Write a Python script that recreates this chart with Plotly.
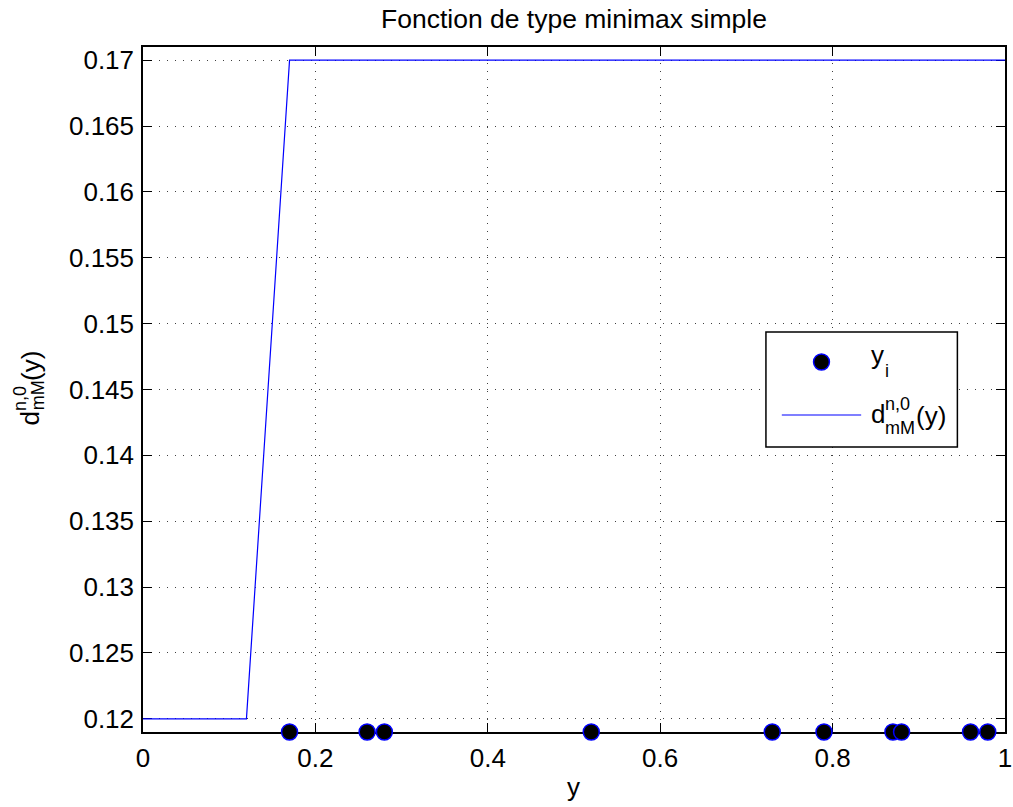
import plotly.graph_objects as go

# Sample points y_i (drawn on the lower edge of the axes)
y_points = [0.17, 0.26, 0.28, 0.52, 0.73, 0.79, 0.87, 0.88, 0.96, 0.98]
y_points_level = [0.119] * len(y_points)

# Piecewise-linear minimax function d_mM^{n,0}(y)
d_x = [0.0, 0.12, 0.17, 1.0]
d_val = [0.12, 0.12, 0.17, 0.17]

x_ticks = [0, 0.2, 0.4, 0.6, 0.8, 1]
x_tick_text = ["0", "0.2", "0.4", "0.6", "0.8", "1"]
y_ticks = [0.12, 0.125, 0.13, 0.135, 0.14, 0.145, 0.15, 0.155, 0.16, 0.165, 0.17]
y_tick_text = ["0.12", "0.125", "0.13", "0.135", "0.14", "0.145", "0.15",
               "0.155", "0.16", "0.165", "0.17"]

W, H = 1013, 807
L, R, T, B = 143, 1012, 47, 732   # plot area in pixels
FONT = "Liberation Sans, Arial, Helvetica, sans-serif"
BLUE = "#0000ff"
FS = 26      # main text size
FS_SUB = 18  # super/subscript size


def px(x):
    return (x - L) / (R - L)


def py(y):
    return (B - y) / (B - T)


fig = go.Figure()
fig.add_trace(go.Scatter(
    x=d_x, y=d_val, mode="lines",
    line=dict(color=BLUE, width=1.2),
    showlegend=False, hoverinfo="skip",
))
fig.add_trace(go.Scatter(
    x=y_points, y=y_points_level, mode="markers",
    marker=dict(size=16, color="black", line=dict(color=BLUE, width=1.5)),
    cliponaxis=False, showlegend=False,
))

axis_common = dict(
    showline=True, linecolor="black", linewidth=1.5, mirror="ticks",
    ticks="inside", ticklen=9, tickwidth=1.2, tickcolor="black",
    showgrid=True, gridcolor="rgba(0,0,0,0.75)", gridwidth=1,
    griddash="1px,7px", zeroline=False, layer="below traces",
    tickfont=dict(family=FONT, size=FS, color="black"),
    ticklabeloverflow="allow",
)

fig.update_xaxes(range=[0, 1], tickvals=x_ticks, ticktext=x_tick_text,
                 ticklabelstandoff=2, **axis_common)
fig.update_yaxes(range=[0.119, 0.171], tickvals=y_ticks, ticktext=y_tick_text,
                 ticklabelstandoff=2, **axis_common)

annotations = [
    dict(text="Fonction de type minimax simple", x=px(577), y=py(19),
         font=dict(size=26.5)),
    dict(text="y", x=px(577), y=py(787), font=dict(size=FS)),
    # y-axis label d^{n,0}_{mM}(y), rotated
    dict(text="d", x=px(29.5), y=py(418), font=dict(size=FS), textangle=-90),
    dict(text="n,0", x=px(19), y=py(398), font=dict(size=FS_SUB), textangle=-90),
    dict(text="mM", x=px(37), y=py(395.5), font=dict(size=FS_SUB), textangle=-90),
    dict(text="(y)", x=px(29.5), y=py(365.5), font=dict(size=FS), textangle=-90),
    # legend entries
    dict(text="y", x=px(875), y=py(355), xanchor="left", font=dict(size=FS)),
    dict(text="i", x=px(889), y=py(371), xanchor="left", font=dict(size=FS_SUB)),
    dict(text="d", x=px(875), y=py(414), xanchor="left", font=dict(size=FS)),
    dict(text="n,0", x=px(889), y=py(404), xanchor="left", font=dict(size=FS_SUB)),
    dict(text="mM", x=px(889), y=py(428), xanchor="left", font=dict(size=FS_SUB)),
    dict(text="(y)", x=px(920), y=py(416), xanchor="left", font=dict(size=FS)),
]
for a in annotations:
    a.setdefault("xanchor", "center")
    a.update(xref="paper", yref="paper", yanchor="middle", showarrow=False)
    a["font"].update(family=FONT, color="black")

shapes = [
    # legend frame
    dict(type="rect", x0=px(771), x1=px(964), y0=py(447), y1=py(332),
         line=dict(color="black", width=1.5), fillcolor="white"),
    # legend marker
    dict(type="circle", x0=px(819), x1=px(835), y0=py(370), y1=py(354),
         line=dict(color=BLUE, width=1.5), fillcolor="black"),
    # legend line sample
    dict(type="line", x0=px(787), x1=px(867), y0=py(415), y1=py(415),
         line=dict(color=BLUE, width=1.2)),
]
for s in shapes:
    s.update(xref="paper", yref="paper")

fig.update_layout(
    width=W, height=H,
    margin=dict(l=L, r=W - R, t=T, b=H - B, pad=0),
    paper_bgcolor="white", plot_bgcolor="white",
    annotations=annotations, shapes=shapes,
    font=dict(family=FONT, color="black"),
)

fig.write_html("out.html")
